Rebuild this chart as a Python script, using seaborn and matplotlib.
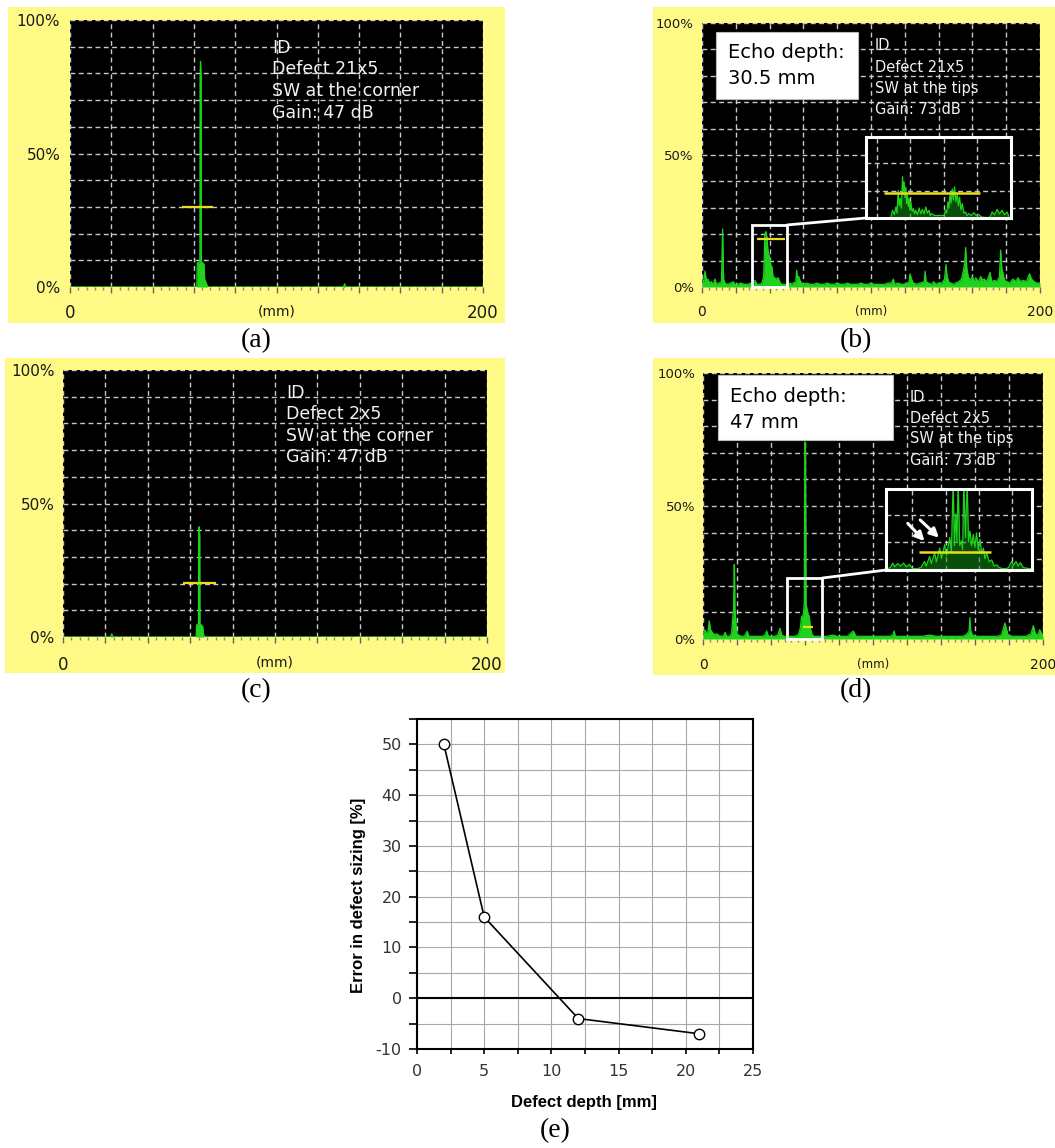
import numpy as np
import pandas as pd
import matplotlib
matplotlib.use("Agg")
import matplotlib.pyplot as plt
import seaborn as sns
from matplotlib.patches import Rectangle
from matplotlib.lines import Line2D
from matplotlib.ticker import MultipleLocator

# ---------------- data ----------------
# panel (e)
defect_depth_mm = [2, 5, 12, 21]
sizing_error_pct = [50, 16, -4, -7]

# A-scan traces: (sound path [mm], amplitude [%])
trace_a = [(0, 0), (61.4, 0), (61.6, 9), (62.9, 9.5), (63.0, 79), (63.2, 84.4), (63.5, 79),
           (63.6, 9.5), (64.9, 8.5), (65.2, 3), (66.2, 1), (66.6, 0), (132.4, 0), (133, 1.2),
           (133.6, 0), (200, 0)]
trace_c = [(0, 0), (22.4, 0), (23, 1.2), (23.6, 0), (62.8, 0), (63.0, 4.5), (63.9, 5),
           (64.0, 38), (64.2, 41.3), (64.5, 38), (64.6, 5), (65.9, 4), (66.3, 1), (66.8, 0),
           (200, 0)]
trace_b = [(0, 3), (1, 2), (1.8, 6), (2.6, 2.5), (3.5, 3), (4.5, 1.5), (5.5, 2), (6.5, 1),
           (7.7, 3), (8.6, 1), (10, 1.5), (11.5, 2), (12.2, 22), (12.8, 3), (13.5, 1.5),
           (15, 1), (17, 1.5), (18.5, 2), (19.5, 1), (21, 1), (23, 1.5), (25, 1), (27, 1),
           (29, 1.5), (30.5, 1), (31.4, 2.5), (32.5, 1), (34, 1), (35.5, 1.5), (36.5, 4),
           (37.2, 20), (37.8, 21), (38.4, 19), (39, 14), (39.6, 12), (40.2, 11), (40.8, 8),
           (41.4, 7.7), (42, 4), (43, 3.5), (44, 3), (45, 3.5), (46, 2), (47, 1), (49, 1),
           (51, 1), (52, 1.5), (53, 1), (54, 1.5), (55.5, 2), (56, 6.4), (56.6, 3), (57.2, 4),
           (58, 2.5), (59, 1.5), (60, 1), (62, 1.5), (64, 1), (66, 1), (68, 1.5), (70, 1),
           (72, 1), (74, 1.5), (76, 1), (78, 1), (80, 1.5), (82, 1), (84, 1), (86, 1.5),
           (88, 1), (90, 1), (92, 1), (94, 1.5), (96, 1), (98, 1), (100, 1.5), (102, 1),
           (104, 1), (106, 1), (108, 1), (110, 1.5), (112, 1.5), (113.2, 3), (114, 1),
           (116, 1.5), (118, 1), (120, 1), (122.5, 2), (123.1, 5), (124, 3), (125, 1.5),
           (127, 1), (129, 1.5), (131.5, 2), (132, 6), (132.6, 2), (134, 1.5), (136, 1),
           (137, 2), (138.5, 1), (140, 1.5), (142, 1.5), (143.5, 3), (144.4, 8.5), (145, 4),
           (146, 2), (147, 1.5), (149, 1), (150, 1.5), (152, 2), (153.5, 3), (154.6, 6),
           (155.4, 9), (156, 15), (156.7, 7), (157.5, 4), (158.5, 2.5), (160, 4), (161, 2),
           (162, 3.5), (163.5, 2), (165, 4), (166, 2.5), (167, 3), (168.5, 2), (170.4, 5.5),
           (171.5, 2), (173, 2.5), (174.5, 2), (176, 4), (176.7, 14), (177.4, 7), (178, 5.5),
           (179, 2.5), (180.5, 2), (182, 1.5), (184, 3), (185.5, 2), (187, 3.5), (188.5, 2),
           (190, 2.5), (192, 2), (193.8, 5), (195, 3), (196.5, 2), (198, 1.5), (200, 1.5)]
trace_d = [(0, 2), (1.2, 3.4), (2, 2), (3, 3), (3.7, 6.8), (4.4, 3.5), (5.1, 2.8), (6, 2),
           (7, 1.5), (8, 2), (9, 1.5), (10, 1), (11, 1.2), (12, 1), (13, 2.5), (14, 1),
           (15.5, 1), (16.8, 2), (17.5, 8), (18, 11.6), (18.3, 28), (18.5, 28), (18.8, 11.6),
           (19.4, 6), (20, 2), (21.5, 1.2), (23, 1), (24.5, 1.2), (26, 2.9), (27, 1), (29, 1),
           (31, 1), (33, 1), (35, 1), (36.5, 1.5), (37.5, 3), (38.5, 1), (40, 1), (42, 1),
           (44, 1.5), (45.3, 4), (46.2, 1.5), (48, 1), (50, 1), (52, 1), (54, 1), (56, 1.5),
           (57.2, 4), (58, 8.4), (59, 9), (59.6, 13.5), (59.9, 74), (60.3, 74), (60.6, 13.5),
           (61.5, 10), (62.5, 8.4), (63.2, 4), (64, 2), (65, 1), (67, 1), (70, 1), (73, 1),
           (76.5, 1.5), (79, 1), (82, 1), (85, 1), (88.4, 3), (90, 1), (94, 1), (98, 1),
           (102, 1), (106, 1), (110, 1), (111.6, 1.5), (112.4, 3), (113.2, 1), (117, 1),
           (121, 1), (125, 1), (129, 1), (133.5, 1.5), (137, 1), (141, 1), (145, 1), (149, 1),
           (153, 1), (155.5, 2), (156.5, 3), (157, 8), (157.5, 3), (158.5, 1.5), (161, 1),
           (165, 1), (169, 1), (173, 1), (175.5, 1.5), (176.5, 3.5), (177.6, 6), (178.6, 3.5),
           (179.5, 1.5), (182, 1), (186, 1), (190, 1), (193, 2), (194.3, 5), (195.5, 2),
           (197, 1.5), (198, 3.5), (199, 2.5), (200, 1)]
# zoomed insets (relative units 0-100)
inset_trace_b = [(17, 0), (18.3, 9.5), (19.5, 4), (20.6, 13.6), (21.4, 6), (22.2, 34), (22.9, 15),
                 (23.6, 24), (24.4, 12), (25.2, 51), (25.8, 30), (26.3, 44.6), (26.9, 25),
                 (27.5, 38), (28.0, 18), (28.6, 28), (29.2, 14), (29.7, 24), (30.3, 10),
                 (30.9, 20), (31.8, 8), (32.7, 11.6), (33.5, 5), (34.3, 9.5), (35.5, 4),
                 (36.6, 12.4), (37.8, 5), (38.9, 10.7), (40.0, 5), (41.2, 13.6), (42.3, 6),
                 (43.5, 9.5), (44.3, 3), (45.1, 5.4), (47, 3.3), (49, 3), (51, 3.3), (53.8, 3),
                 (54.9, 9.5), (55.7, 6), (56.5, 20), (57.2, 12), (57.9, 30), (58.7, 18),
                 (59.5, 36), (60.3, 22), (61.1, 38.4), (62.0, 20), (62.9, 30), (63.7, 15),
                 (64.5, 26), (65.5, 10), (66.4, 17.8), (67.5, 6), (68.6, 7.4), (69.8, 3),
                 (70.9, 5.4), (72.6, 3), (74.4, 6.6), (76.1, 3), (77.8, 4.1), (80, 1),
                 (84, 0.5), (85.5, 1), (87, 7.4), (88.7, 4), (90.4, 10.7), (92.1, 5),
                 (93.8, 9.5), (95.5, 4), (97.3, 7.4), (98.5, 2)]
inset_trace_d = [(0, 1), (3, 3), (4.6, 8.4), (6, 4), (8, 8), (10, 5), (12, 8.4), (14, 4), (16, 7),
                 (18, 2), (21, 1.5), (24, 3), (26.4, 10.5), (27.5, 5), (29.9, 16.8), (31, 8),
                 (33.3, 21), (34.5, 10), (36.8, 27), (38, 14), (40.2, 31.5), (41.5, 18),
                 (43.7, 40), (44.8, 22), (46, 110), (46.9, 30), (47.8, 69), (48.6, 35),
                 (49.4, 110), (50.5, 30), (51.7, 36), (52.5, 25), (53.3, 110), (54.4, 40),
                 (55.6, 110), (56.5, 35), (57.5, 48), (58.6, 30), (59.8, 44), (60.9, 28),
                 (62, 46), (63.2, 25), (64.4, 38), (65.5, 20), (66.7, 27), (67.8, 14), (69, 21),
                 (70.7, 10), (72.4, 12.6), (74, 5), (75.9, 6.3), (77.5, 3), (79.3, 2), (82, 1.5),
                 (84, 3), (86, 10.5), (87.5, 6), (89, 10.5), (90.5, 5), (92, 9), (94, 3),
                 (97, 2), (100, 1.5)]
# gates: (start mm, end mm, level %)
gate_a = (54, 69.4, 30)
gate_c = (56.8, 72.2, 20.1)
gate_b = (32.4, 49, 18)
gate_d = (58.8, 64.7, 4.4)
gate_inset_b = (12.6, 78.3, 31.4)
gate_inset_d = (22.5, 71.7, 22)
# zoom windows on the main traces: (mm0, %0, mm1, %1)
zoom_box_b = (29.6, 0, 50.3, 23.5)
zoom_box_d = (49.4, 0, 70, 22.9)
# arrows in inset (d): (tail x, tail y, head x, head y)
arrows_inset_d = [(14.9, 57.6, 26.4, 35.7), (23.4, 61.8, 36.3, 39.9)]

info_a = ["ID", "Defect 21x5", "SW at the corner", "Gain: 47 dB"]
info_b = ["ID", "Defect 21x5", "SW at the tips", "Gain: 73 dB"]
info_c = ["ID", "Defect 2x5", "SW at the corner", "Gain: 47 dB"]
info_d = ["ID", "Defect 2x5", "SW at the tips", "Gain: 73 dB"]
echo_b = ["Echo depth:", "30.5 mm"]
echo_d = ["Echo depth:", "47 mm"]
xlabels_ascan = ['0', '', '', '', '', '(mm)', '', '', '', '', '200']
ylabels_ascan = ['0%', '', '', '', '', '50%', '', '', '', '', '100%']

# ---------------- style ----------------
sns.set_theme(style="white")
plt.rcParams['font.family'] = ['DejaVu Sans']
plt.rcParams['axes.unicode_minus'] = False

GREEN = '#1ed21e'
YELLOW = '#fffa85'
GATE = '#e8de1e'
GRIDC = '#c8c8c8'
DASH = (0, (3.5, 2.5))

W, H = 1055, 1148
fig = plt.figure(figsize=(W / 100, H / 100), dpi=100)
fig.patch.set_facecolor('white')


def add_ax(x0, y0, x1, y1):
    return fig.add_axes([x0 / W, 1 - y1 / H, (x1 - x0) / W, (y1 - y0) / H])


def fig_rect(x0, y0, x1, y1, **kw):
    r = Rectangle((x0 / W, 1 - y1 / H), (x1 - x0) / W, (y1 - y0) / H,
                  transform=fig.transFigure, **kw)
    fig.add_artist(r)


def fig_lines(x, lines, baselines, size, color):
    for s, yb in zip(lines, baselines):
        fig.text(x / W, 1 - yb / H, s, color=color, fontsize=size, ha='left', va='baseline',
                 zorder=10)


def draw_trace(ax, trace, lw=0.9, fill_alpha=1.0, fillc=GREEN):
    df = pd.DataFrame(trace, columns=['mm', 'amp'])
    ax.fill_between(df['mm'], 0, df['amp'], color=fillc, lw=0, alpha=fill_alpha)
    sns.lineplot(data=df, x='mm', y='amp', ax=ax, color=GREEN, lw=lw,
                 estimator=None, sort=False)
    ax.set_xlabel('')
    ax.set_ylabel('')


def ascan(box, trace, gate, ysize, xsize, mmsize, ypad, xpad):
    ax = add_ax(*box)
    ax.set_facecolor('black')
    draw_trace(ax, trace)
    ax.hlines(gate[2], gate[0], gate[1], color=GATE, lw=1.6, zorder=5)
    ax.set_xlim(0, 200)
    ax.set_ylim(0, 100)
    ax.set_xticks(np.arange(0, 201, 20), xlabels_ascan)
    ax.set_yticks(np.arange(0, 101, 10), ylabels_ascan)
    ax.xaxis.set_minor_locator(MultipleLocator(4))
    ax.grid(True, which='major', color=GRIDC, ls=DASH, lw=1.0)
    ax.set_axisbelow(True)
    for s in ax.spines.values():
        s.set_visible(False)
    ax.tick_params(axis='y', length=0, pad=ypad, labelsize=ysize, labelcolor='#1a1a1a')
    ax.tick_params(axis='x', which='major', length=4.5, width=1, color='#666666',
                   direction='out', bottom=True, pad=xpad, labelsize=xsize,
                   labelcolor='#1a1a1a')
    ax.tick_params(axis='x', which='minor', length=2.5, width=1, color='#888888',
                   direction='out', bottom=True)
    ax.get_xticklabels()[5].set_fontsize(mmsize)
    return ax


def inset(box, trace, gate, vlines, hlines):
    ax = add_ax(*box)
    ax.set_facecolor('black')
    draw_trace(ax, trace, lw=0.9, fill_alpha=0.55, fillc='#0f8f0f')
    ax.hlines(gate[2], gate[0], gate[1], color=GATE, lw=1.8, zorder=5)
    ax.set_xlim(0, 100)
    ax.set_ylim(0, 100)
    ax.set_xticks(vlines)
    ax.set_yticks(hlines)
    ax.set_xticklabels([])
    ax.set_yticklabels([])
    ax.tick_params(length=0)
    ax.grid(True, color=GRIDC, ls=DASH, lw=1.0)
    ax.set_axisbelow(True)
    for s in ax.spines.values():
        s.set_visible(True)
        s.set_color('white')
        s.set_linewidth(2.2)
    return ax


def zoom_window(ax, ins, zb):
    ax.add_patch(Rectangle((zb[0], zb[1]), zb[2] - zb[0], zb[3] - zb[1], fill=False,
                           edgecolor='white', lw=2.0, zorder=6, clip_on=False))
    inv = fig.transFigure.inverted()
    p1 = inv.transform(ax.transData.transform((zb[2], zb[3])))
    p2 = inv.transform(ins.transAxes.transform((0, 0)))
    fig.add_artist(Line2D([p1[0], p2[0]], [p1[1], p2[1]], color='white', lw=2.0,
                          transform=fig.transFigure, zorder=7))


# yellow instrument backgrounds
fig_rect(8, 7, 505, 323, facecolor=YELLOW, edgecolor='none', zorder=-10)
fig_rect(653, 7, 1055, 323, facecolor=YELLOW, edgecolor='none', zorder=-10)
fig_rect(5, 358, 505, 673, facecolor=YELLOW, edgecolor='none', zorder=-10)
fig_rect(653, 358, 1055, 675, facecolor=YELLOW, edgecolor='none', zorder=-10)

# (a)
ax_a = ascan((70, 20, 483, 287), trace_a, gate_a, 11, 12, 10, 7, 8)
fig_lines(272, info_a, [53, 74.5, 96, 117.5], 12.5, '#f2f2f2')
# (c)
ax_c = ascan((63, 370, 487, 637), trace_c, gate_c, 11, 12, 10, 6, 9)
fig_lines(286, info_c, [398, 419, 441, 462], 12.5, '#f2f2f2')
# (b)
ax_b = ascan((702, 23, 1040, 287), trace_b, gate_b, 9.5, 10, 8.5, 6, 8.5)
ins_b = inset((866, 137, 1011, 218), inset_trace_b, gate_inset_b,
              [7.6, 30.6, 53.6, 76.6], [33.3, 67.9])
zoom_window(ax_b, ins_b, zoom_box_b)
fig_rect(716, 32, 858, 99, facecolor='white', edgecolor='#bbbbbb', lw=0.8, zorder=8)
fig_lines(728, echo_b, [58, 84], 14, 'black')
fig_lines(875, info_b, [50, 72, 93, 114], 10.5, '#f2f2f2')
# (d)
ax_d = ascan((703, 373, 1043, 639), trace_d, gate_d, 9.5, 10, 8.5, 5.5, 9.5)
ins_d = inset((886, 489, 1032, 570), inset_trace_d, gate_inset_d,
              [18, 40.8, 63.6, 86.4], [35, 67.9])
for tx, ty, hx, hy in arrows_inset_d:
    ins_d.annotate('', xy=(hx, hy), xytext=(tx, ty),
                   arrowprops=dict(arrowstyle='-|>', color='white', lw=2.2,
                                   mutation_scale=13, shrinkA=0, shrinkB=0), zorder=8)
zoom_window(ax_d, ins_d, zoom_box_d)
fig_rect(718, 375, 893, 440, facecolor='white', edgecolor='#bbbbbb', lw=0.8, zorder=8)
fig_lines(730, echo_d, [401.7, 427.7], 14, 'black')
fig_lines(910, info_d, [401.7, 422.7, 443.3, 465], 10.5, '#f2f2f2')

# (e)
ax_e = add_ax(417, 719, 753, 1049)
ax_e.set_facecolor('white')
sns.lineplot(x=defect_depth_mm, y=sizing_error_pct, ax=ax_e, color='black', lw=1.2,
             marker='o', markersize=7.5, markerfacecolor='white', markeredgecolor='black',
             markeredgewidth=1.0, zorder=5)
ax_e.set_xlim(0, 25)
ax_e.set_ylim(-10, 55)
ax_e.set_xticks(range(0, 26, 5))
ax_e.set_yticks(range(-10, 51, 10))
ax_e.xaxis.set_minor_locator(MultipleLocator(2.5))
ax_e.yaxis.set_minor_locator(MultipleLocator(5))
ax_e.grid(True, which='both', color='#a8a8a8', lw=0.8)
ax_e.set_axisbelow(True)
ax_e.axhline(0, color='black', lw=1.5, zorder=3)
for s in ax_e.spines.values():
    s.set_visible(True)
    s.set_color('black')
    s.set_linewidth(1.5)
ax_e.tick_params(axis='y', which='both', direction='out', left=True, length=5.5, width=1.2,
                 color='black', pad=5.5, labelsize=11.5, labelcolor='#333333')
ax_e.tick_params(axis='x', which='both', direction='out', bottom=True, length=3.5, width=1.2,
                 color='black', pad=7.5, labelsize=11.5, labelcolor='#333333')
ax_e.set_xlabel('Defect depth [mm]', fontfamily='Liberation Sans', fontweight='bold',
                fontsize=12, color='black')
ax_e.xaxis.set_label_coords((584 - 417) / 336, (1049 - 1102) / 330)
ax_e.xaxis.label.set_va('center')
ax_e.set_ylabel('Error in defect sizing [%]', fontfamily='Liberation Sans',
                fontweight='bold', fontsize=12, color='black')
ax_e.yaxis.set_label_coords((358 - 417) / 336, (1049 - 895) / 330)
ax_e.yaxis.label.set_va('center')

# panel letters
for lab, (x, y) in zip(['(a)', '(b)', '(c)', '(d)', '(e)'],
                       [(256, 341), (856, 341), (256, 691), (856, 691), (555, 1131)]):
    fig.text(x / W, 1 - y / H, lab, fontfamily='Liberation Serif', fontsize=20,
             ha='center', va='center', color='black')

fig.savefig('out.png', dpi=100, facecolor='white')
